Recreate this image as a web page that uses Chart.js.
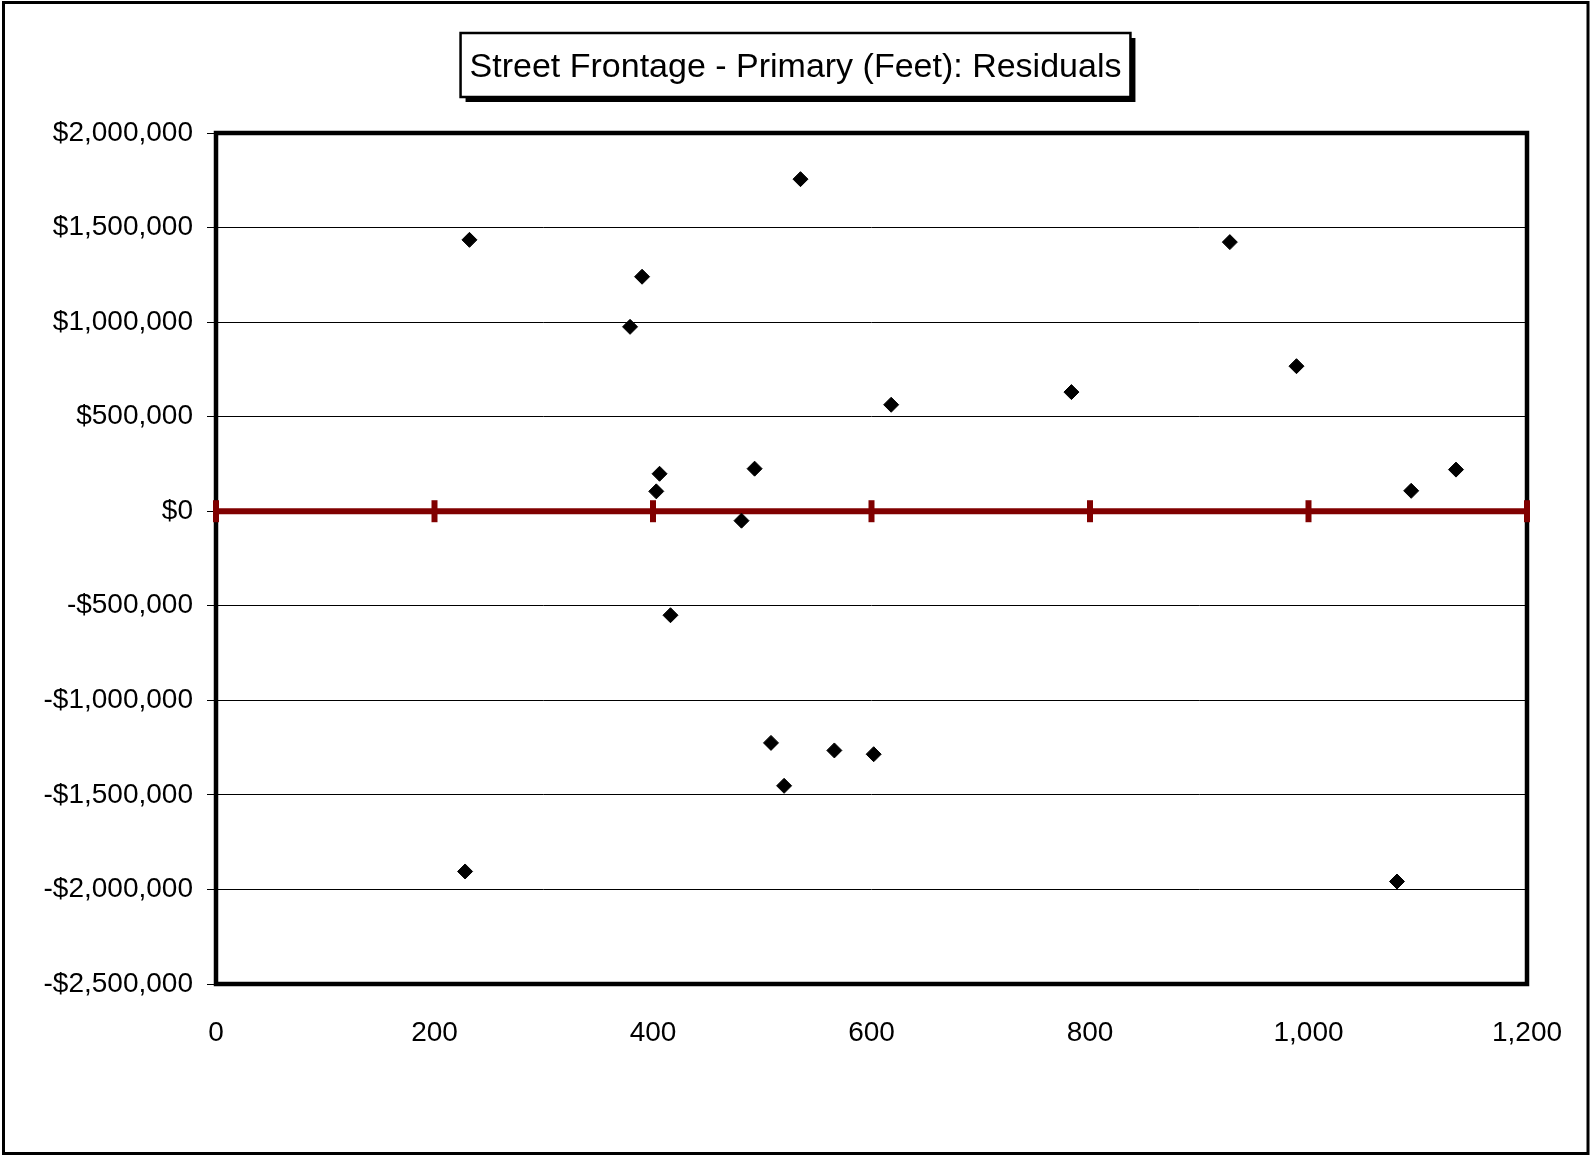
<!DOCTYPE html>
<html>
<head>
<meta charset="utf-8">
<script src="https://cdn.jsdelivr.net/npm/chart.js@4.4.1/dist/chart.umd.min.js"></script>
<style>
  html, body { margin: 0; padding: 0; background: #ffffff; }
  #wrap { width: 1591px; height: 1156px; }
</style>
</head>
<body>
<div id="wrap"><canvas id="c" width="1591" height="1156"></canvas></div>
<script>
// Chart text
const chartTitle = 'Street Frontage - Primary (Feet): Residuals';

// Street frontage (feet) of each observation
const frontageFeet = [232, 228, 379, 390, 403, 406, 416, 481, 493, 508, 520, 535, 566, 602, 618, 783, 928, 989, 1081, 1094, 1135];
// Residual ($) of each observation
const residuals = [1435000, -1905000, 975000, 1240000, 105000, 198000, -550000, -50000, 225000, -1225000, -1452000, 1756000, -1265000, -1285000, 563000, 630000, 1423000, 767000, -1958000, 108000, 220000];

// Axis ticks
const xTicks = [0, 200, 400, 600, 800, 1000, 1200];
const yTicks = [-2500000, -2000000, -1500000, -1000000, -500000, 0, 500000, 1000000, 1500000, 2000000];

const FONT = "'Liberation Sans', Arial, Helvetica, sans-serif";
const TITLE_SIZE = 34;

const scatterPoints = frontageFeet.map((x, i) => ({ x: x, y: residuals[i] }));
const zeroLine = xTicks.map(x => ({ x: x, y: 0 }));

function fmtMoney(v) {
  const s = '$' + Math.abs(v).toLocaleString('en-US');
  return v < 0 ? '-' + s : s;
}

const framePlugin = {
  id: 'frame',
  beforeDraw(chart) {
    const ctx = chart.ctx;
    ctx.save();
    ctx.fillStyle = '#ffffff';
    ctx.fillRect(0, 0, chart.width, chart.height);
    // outer frame
    ctx.strokeStyle = '#000000';
    ctx.lineWidth = 3;
    ctx.strokeRect(3.5, 2.5, 1584.5, 1151);
    // title box with shadow
    ctx.font = TITLE_SIZE + 'px ' + FONT;
    const tw = ctx.measureText(chartTitle).width;
    const cx = chart.width / 2;
    const bw = tw + 18;
    const bx = cx - bw / 2;
    const by = 33, bh = 64;
    ctx.fillStyle = '#000000';
    ctx.fillRect(bx + 5, by + 5, bw, bh);
    ctx.fillStyle = '#ffffff';
    ctx.fillRect(bx, by, bw, bh);
    ctx.lineWidth = 2.5;
    ctx.strokeStyle = '#000000';
    ctx.strokeRect(bx, by, bw, bh);
    ctx.restore();
  },
  beforeDatasetsDraw(chart) {
    const a = chart.chartArea;
    const ctx = chart.ctx;
    ctx.save();
    ctx.strokeStyle = '#000000';
    ctx.lineWidth = 4.5;
    ctx.strokeRect(a.left, a.top, a.right - a.left, a.bottom - a.top);
    ctx.restore();
  }
};

new Chart(document.getElementById('c'), {
  type: 'scatter',
  data: {
    datasets: [
      {
        label: 'Residuals',
        data: scatterPoints,
        pointStyle: 'rectRot',
        pointRadius: 7.5,
        pointBackgroundColor: '#000000',
        pointBorderColor: '#000000',
        pointBorderWidth: 1,
        showLine: false,
        order: 1
      },
      {
        label: 'Zero',
        type: 'line',
        data: zeroLine,
        borderColor: '#800000',
        borderWidth: 6,
        pointStyle: 'line',
        pointRotation: 90,
        pointRadius: 11,
        pointBorderWidth: 6,
        pointBorderColor: '#800000',
        pointBackgroundColor: '#800000',
        clip: false,
        order: 2
      }
    ]
  },
  options: {
    responsive: false,
    animation: false,
    events: [],
    layout: { padding: 0 },
    plugins: {
      legend: { display: false },
      tooltip: { enabled: false },
      title: {
        display: true,
        text: chartTitle,
        color: '#000000',
        font: { family: FONT, size: TITLE_SIZE, weight: 'normal', lineHeight: 1.2 },
        padding: { top: 47, bottom: 45.2 }
      }
    },
    scales: {
      x: {
        type: 'linear',
        min: 0,
        max: 1200,
        afterBuildTicks(scale) { scale.ticks = xTicks.map(v => ({ value: v })); },
        ticks: {
          color: '#000000',
          font: { family: FONT, size: 28 },
          padding: 24,
          maxRotation: 0,
          autoSkip: false,
          callback: v => v.toLocaleString('en-US')
        },
        grid: { display: false },
        border: { display: false },
        afterFit(scale) { scale.height = 172; }
      },
      y: {
        type: 'linear',
        position: 'left',
        min: -2500000,
        max: 2000000,
        afterBuildTicks(scale) { scale.ticks = yTicks.map(v => ({ value: v })); },
        ticks: {
          color: '#000000',
          font: { family: FONT, size: 28 },
          padding: 14,
          autoSkip: false,
          callback: v => fmtMoney(v)
        },
        grid: { color: '#000000', lineWidth: 1, tickLength: 9, drawTicks: true },
        border: { display: false },
        afterFit(scale) { scale.width = 216; }
      },
      rightGap: {
        type: 'linear',
        position: 'right',
        display: true,
        min: 0,
        max: 1,
        ticks: { display: false },
        grid: { display: false, drawTicks: false },
        border: { display: false },
        afterFit(scale) { scale.width = 64; }
      }
    }
  },
  plugins: [framePlugin]
});
</script>
</body>
</html>
